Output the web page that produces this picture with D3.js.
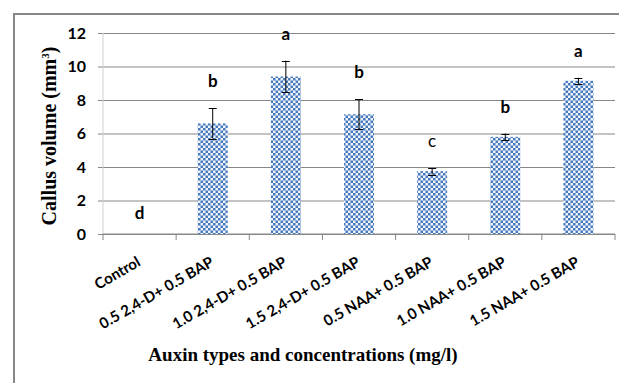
<!DOCTYPE html>
<html>
<head>
<meta charset="utf-8">
<script src="https://cdn.jsdelivr.net/npm/d3@7"></script>
<style>
  body { margin: 0; background: #fff; }
  svg { display: block; }
</style>
</head>
<body>
<script>
var treatments = ['Control', '0.5 2,4-D+ 0.5 BAP', '1.0 2,4-D+ 0.5 BAP', '1.5 2,4-D+ 0.5 BAP',
  '0.5 NAA+ 0.5 BAP', '1.0 NAA+ 0.5 BAP', '1.5 NAA+ 0.5 BAP']
var volume = [0, 6.6, 9.4, 7.15, 3.75, 5.8, 9.15]
var errs = [0, 0.9, 0.95, 0.9, 0.2, 0.2, 0.18]
var letters = ['d', 'b', 'a', 'b', 'c', 'b', 'a']
var yTicks = [0, 2, 4, 6, 8, 10, 12]

var W = 619, H = 383
var margin = {top: 33, right: 4, bottom: 149, left: 103}
var width = W - margin.left - margin.right
var height = H - margin.top - margin.bottom

var svg = d3.select('body').append('svg')
  .attr('width', W)
  .attr('height', H)

// checker pattern for bars
var pat = svg.append('defs').append('pattern')
  .attr('id', 'checker')
  .attr('patternUnits', 'userSpaceOnUse')
  .attr('width', 5).attr('height', 5)
pat.append('rect').attr('width', 5).attr('height', 5).attr('fill', '#f2f5fb')
pat.append('rect').attr('width', 2.5).attr('height', 2.5).attr('fill', '#4679be')
pat.append('rect').attr('x', 2.5).attr('y', 2.5).attr('width', 2.5).attr('height', 2.5).attr('fill', '#4679be')

// outer chart frame
svg.append('rect')
  .attr('x', 14).attr('y', 14)
  .attr('width', W).attr('height', H)
  .attr('fill', 'none')
  .attr('stroke', '#878787')
  .attr('stroke-width', 2)

var g = svg.append('g')
  .attr('transform', `translate(${margin.left}, ${margin.top})`)

var x0 = d3.scaleBand().domain(treatments).range([0, width])
var x = d3.scaleBand().domain(treatments).range([0, width])
  .paddingInner(0.59).paddingOuter(0.295)
var y = d3.scaleLinear().domain([0, 12]).range([height, 0])

// gridlines + y axis labels
var yAxis = g.append('g')
  .call(d3.axisLeft(y).tickValues(yTicks).tickSize(-width - 5).tickPadding(12))
  .attr('transform', 'translate(-5,0)')
yAxis.select('.domain').remove()
yAxis.selectAll('line').attr('stroke', '#878787').attr('x1', 0).attr('x2', width + 5)
yAxis.selectAll('text')
  .attr('x', -12)
  .style('font-family', 'Lato, "Liberation Sans", sans-serif')
  .style('font-weight', 'bold')
  .style('font-size', '16px')
  .attr('fill', '#000')

// vertical axis line
g.append('line')
  .attr('x1', 0).attr('x2', 0)
  .attr('y1', 0).attr('y2', height)
  .attr('stroke', '#d0d0d0')

// x axis line and ticks at category boundaries
g.append('line')
  .attr('x1', 0).attr('x2', width)
  .attr('y1', height).attr('y2', height)
  .attr('stroke', '#878787')
var bounds = treatments.map(d => x0(d)).concat([width])
g.selectAll('.xtick')
  .data(bounds)
  .enter().append('line')
  .attr('class', 'xtick')
  .attr('x1', d => d).attr('x2', d => d)
  .attr('y1', height).attr('y2', height + 6)
  .attr('stroke', '#878787')

// bars
var data = treatments.map((t, i) => ({t: t, v: volume[i], e: errs[i], l: letters[i]}))
g.selectAll('.bar')
  .data(data)
  .enter().append('rect')
  .attr('class', 'bar')
  .attr('x', d => x(d.t))
  .attr('width', x.bandwidth())
  .attr('y', d => y(d.v))
  .attr('height', d => height - y(d.v))
  .attr('fill', 'url(#checker)')

// error bars
var cx = d => x(d.t) + x.bandwidth() / 2
var eb = g.selectAll('.err')
  .data(data.filter(d => d.e > 0))
  .enter().append('g')
  .attr('class', 'err')
  .attr('stroke', '#000')
  .attr('stroke-width', 1)
eb.append('line')
  .attr('x1', cx).attr('x2', cx)
  .attr('y1', d => y(d.v + d.e)).attr('y2', d => y(d.v - d.e))
eb.append('line')
  .attr('x1', d => cx(d) - 4).attr('x2', d => cx(d) + 4)
  .attr('y1', d => Math.round(y(d.v + d.e)) + 0.5).attr('y2', d => Math.round(y(d.v + d.e)) + 0.5)
eb.append('line')
  .attr('x1', d => cx(d) - 4).attr('x2', d => cx(d) + 4)
  .attr('y1', d => Math.round(y(d.v - d.e)) + 0.5).attr('y2', d => Math.round(y(d.v - d.e)) + 0.5)

// significance letters
g.selectAll('.letter')
  .data(data)
  .enter().append('text')
  .attr('class', 'letter')
  .attr('x', cx)
  .attr('y', d => d.v > 0 ? y(d.v + d.e) - 21 : y(0) - 15)
  .attr('text-anchor', 'middle')
  .style('font-family', 'Lato, "Liberation Sans", sans-serif')
  .style('font-weight', d => d.l === 'c' ? 'normal' : 'bold')
  .style('font-size', '17px')
  .text(d => d.l)

// category labels
g.selectAll('.xlab')
  .data(treatments)
  .enter().append('text')
  .attr('class', 'xlab')
  .attr('transform', d => `translate(${x0(d) + x0.bandwidth() / 2 + 2}, ${height + 31}) rotate(-30)`)
  .attr('text-anchor', 'end')
  .style('font-family', 'Lato, "Liberation Sans", sans-serif')
  .style('font-weight', 'bold')
  .style('font-size', '15px')
  .text(d => d)

// axis titles
svg.append('text')
  .attr('x', 303).attr('y', 361)
  .attr('text-anchor', 'middle')
  .style('font-family', '"Liberation Serif", "Times New Roman", serif')
  .style('font-weight', 'bold')
  .style('font-size', '19px')
  .text('Auxin types and concentrations (mg/l)')

var yt = svg.append('text')
  .attr('transform', 'translate(56, 136) rotate(-90)')
  .attr('text-anchor', 'middle')
  .style('font-family', '"Liberation Serif", "Times New Roman", serif')
  .style('font-weight', 'bold')
  .style('font-size', '20px')
yt.append('tspan').text('Callus volume (mm')
yt.append('tspan').attr('dy', -7).style('font-size', '11px').text('3')
yt.append('tspan').attr('dy', 7).text(')')
</script>
</body>
</html>
